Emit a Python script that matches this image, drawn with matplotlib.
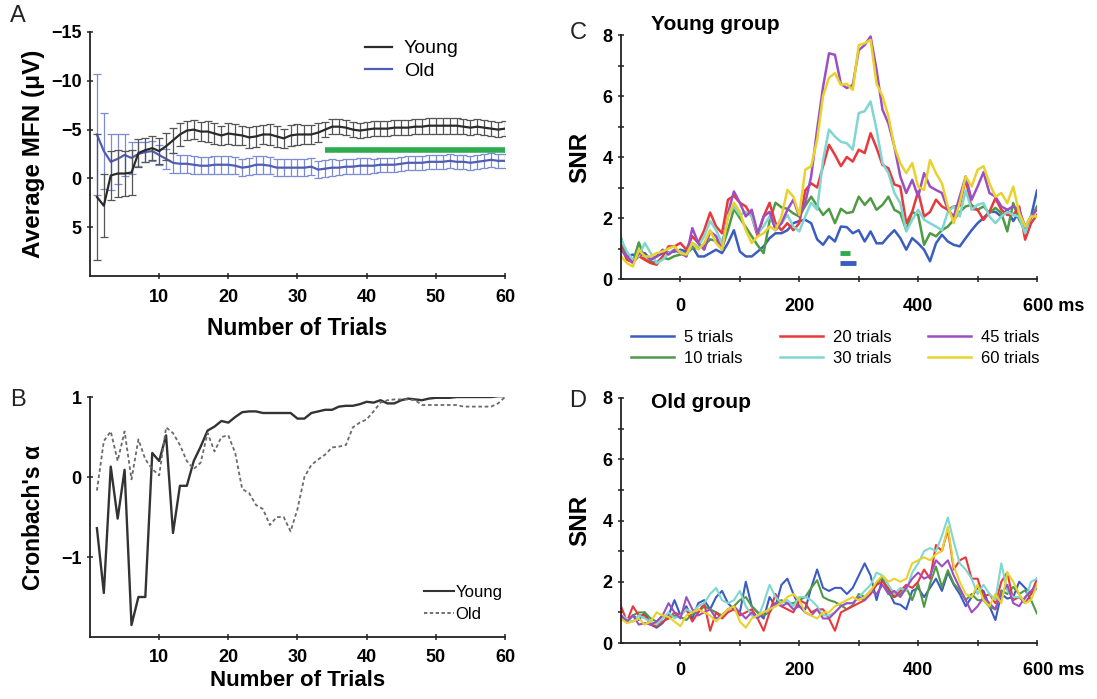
import numpy as np
import matplotlib
matplotlib.use("Agg")
import matplotlib.pyplot as plt
from matplotlib.lines import Line2D
from matplotlib.transforms import ScaledTranslation

plt.rcParams['font.family'] = ['Liberation Sans', 'DejaVu Sans']

# ---- panel A: average MFN vs number of trials ----
trials = np.arange(1, 61)
young_mfn = [1.9, 2.8, -0.3, -0.5, -0.5, -0.6, -2.6, -2.9, -3.1, -2.8,
             -3.3, -3.9, -4.5, -4.9, -5.0, -4.8, -4.8, -4.6, -4.4, -4.6,
             -4.5, -4.4, -4.2, -4.3, -4.5, -4.5, -4.3, -4.1, -4.4, -4.5,
             -4.5, -4.5, -4.7, -5.0, -5.3, -5.3, -5.2, -5.0, -4.9, -5.0,
             -5.1, -5.1, -5.1, -5.2, -5.2, -5.2, -5.3, -5.3, -5.4, -5.4,
             -5.4, -5.4, -5.4, -5.3, -5.2, -5.3, -5.2, -5.1, -5.0, -5.1]
young_err = [6.5, 3.2, 2.5, 2.4, 2.3, 2.3, 1.4, 1.2, 1.2, 1.3,
             1.4, 1.3, 1.2, 1.0, 1.0, 1.0, 1.1, 1.1, 1.0, 1.1,
             1.1, 1.0, 1.1, 1.1, 1.0, 1.1, 1.1, 1.0, 1.1, 1.1,
             1.0, 1.0, 1.0, 0.8, 0.8, 0.8, 0.8, 0.8, 0.8, 0.8,
             0.8, 0.8, 0.8, 0.8, 0.8, 0.8, 0.8, 0.8, 0.8, 0.8,
             0.8, 0.8, 0.8, 0.8, 0.8, 0.8, 0.8, 0.8, 0.8, 0.8]
old_mfn = [-4.5, -2.8, -1.7, -2.0, -2.4, -2.1, -2.5, -2.7, -2.8, -2.4,
           -2.0, -1.6, -1.5, -1.5, -1.4, -1.3, -1.3, -1.4, -1.4, -1.4,
           -1.3, -1.1, -1.2, -1.4, -1.4, -1.3, -1.1, -1.1, -1.1, -1.1,
           -1.1, -1.2, -0.9, -1.0, -1.1, -1.1, -1.2, -1.2, -1.3, -1.3,
           -1.3, -1.4, -1.4, -1.4, -1.5, -1.6, -1.6, -1.6, -1.7, -1.7,
           -1.7, -1.8, -1.7, -1.7, -1.6, -1.7, -1.8, -1.9, -1.8, -1.8]
old_err = [6.2, 3.9, 2.9, 2.6, 2.2, 1.6, 1.2, 1.0, 1.0, 1.0,
           1.0, 1.0, 0.9, 0.9, 0.9, 0.9, 0.9, 0.9, 0.9, 0.9,
           0.9, 0.9, 0.9, 0.9, 0.9, 0.9, 0.9, 0.9, 0.9, 0.9,
           0.9, 0.9, 0.9, 0.9, 0.9, 0.8, 0.8, 0.8, 0.8, 0.8,
           0.7, 0.7, 0.7, 0.7, 0.7, 0.7, 0.7, 0.7, 0.7, 0.7,
           0.7, 0.7, 0.7, 0.7, 0.7, 0.7, 0.7, 0.7, 0.7, 0.7]
sig_start, sig_end, sig_level = 34, 60, -2.9

# ---- panel B: Cronbach's alpha ----
young_alpha = [-0.64, -1.45, 0.13, -0.52, 0.09, -1.85, -1.5, -1.5, 0.3, 0.2,
               0.52, -0.7, -0.11, -0.11, 0.2, 0.38, 0.58, 0.63, 0.7, 0.68,
               0.75, 0.81, 0.82, 0.82, 0.8, 0.8, 0.8, 0.8, 0.8, 0.73,
               0.73, 0.8, 0.82, 0.84, 0.84, 0.88, 0.89, 0.89, 0.91, 0.94,
               0.93, 0.96, 0.92, 0.92, 0.96, 0.98, 0.97, 0.96, 0.98, 0.99,
               0.99, 0.99, 1.0, 1.0, 1.0, 1.0, 1.0, 1.0, 1.01, 1.01]
old_alpha = [-0.17, 0.45, 0.57, 0.2, 0.57, -0.03, 0.47, 0.22, 0.1, 0.02,
             0.62, 0.55, 0.4, 0.2, 0.1, 0.18, 0.55, 0.32, 0.5, 0.52,
             0.3, -0.15, -0.2, -0.35, -0.4, -0.6, -0.5, -0.5, -0.68, -0.4,
             0.0, 0.15, 0.22, 0.28, 0.37, 0.38, 0.4, 0.62, 0.68, 0.72,
             0.82, 0.93, 0.96, 0.97, 0.97, 0.97, 0.96, 0.9, 0.9, 0.9,
             0.9, 0.9, 0.9, 0.88, 0.88, 0.88, 0.88, 0.88, 0.92, 1.0]

# ---- panels C, D: SNR over time ----
times = np.arange(-100, 601, 10)
snr_labels = ["5 trials", "10 trials", "20 trials", "30 trials", "45 trials", "60 trials"]
snr_colors = ["#3b5cc0", "#4f9a45", "#e8383c", "#80d6d2", "#9d4fc1", "#e8d22c"]

young_snr = [
    # 5 trials
    [1.07, 0.74, 0.80, 0.74, 0.85, 0.63, 0.74, 0.85, 0.87, 0.90,
     0.96, 0.90, 1.07, 0.74, 0.74, 0.85, 0.96, 0.85, 1.18, 1.60,
     0.90, 0.74, 0.74, 0.90, 1.07, 1.34, 1.50, 1.50, 1.60, 1.83,
     1.90, 1.94, 1.83, 1.30, 1.12, 1.40, 1.23, 1.72, 1.70, 1.50,
     1.60, 1.23, 1.56, 1.17, 1.17, 1.40, 1.60, 1.34, 0.96, 1.34,
     1.17, 0.96, 0.58, 1.17, 1.45, 1.23, 1.12, 1.07, 1.34, 1.60,
     1.83, 2.00, 2.20, 2.20, 2.05, 2.27, 1.90, 2.20, 1.60, 2.05,
     2.90],
    # 10 trials
    [1.35, 0.70, 0.55, 1.20, 0.65, 0.55, 0.55, 0.70, 0.65, 0.75,
     0.80, 0.85, 1.00, 1.05, 1.10, 1.30, 1.25, 1.00, 1.60, 2.30,
     2.00, 1.70, 1.40, 1.10, 0.85, 1.90, 2.50, 2.35, 2.30, 2.15,
     2.05, 2.40, 2.70, 2.40, 2.10, 2.30, 1.83, 2.30, 2.16, 2.20,
     2.70, 2.43, 2.65, 2.27, 2.43, 2.70, 2.27, 2.16, 1.60, 2.20,
     2.10, 1.12, 1.50, 1.40, 1.60, 1.72, 1.94, 2.20, 2.38, 2.43,
     2.27, 2.38, 2.16, 2.33, 2.16, 1.56, 2.49, 1.94, 1.60, 2.00,
     2.38],
    # 20 trials
    [1.07, 0.63, 0.55, 0.75, 0.63, 0.52, 0.47, 0.74, 1.07, 1.07,
     1.18, 0.96, 1.40, 1.18, 1.60, 2.18, 1.72, 1.50, 2.60, 2.73,
     2.50, 2.38, 2.05, 1.40, 2.05, 2.50, 1.83, 1.60, 1.83, 1.60,
     1.83, 2.90, 3.14, 3.00, 3.70, 4.40, 4.07, 3.70, 4.00, 3.85,
     4.24, 4.13, 4.78, 4.30, 3.74, 3.63, 3.10, 3.03, 1.83, 2.20,
     2.87, 2.05, 2.20, 2.60, 2.38, 2.27, 2.38, 2.40, 3.30, 2.30,
     2.27, 1.94, 2.20, 2.65, 2.27, 2.10, 2.10, 2.38, 1.29, 1.83,
     2.10],
    # 30 trials
    [1.30, 0.90, 0.63, 0.75, 1.18, 0.85, 0.52, 0.63, 0.85, 0.96,
     0.90, 0.74, 1.18, 1.07, 1.40, 1.90, 1.60, 1.18, 2.05, 2.38,
     2.10, 2.20, 2.05, 1.50, 1.72, 2.05, 1.72, 1.83, 2.10, 1.72,
     1.56, 2.05, 2.50, 2.27, 3.90, 4.90, 4.67, 4.50, 4.45, 4.24,
     5.44, 5.50, 5.82, 4.90, 3.80, 3.47, 2.82, 2.49, 1.56, 1.94,
     2.27, 1.94, 1.83, 1.72, 1.60, 2.20, 2.38, 2.05, 2.90, 2.27,
     2.43, 2.49, 2.05, 1.83, 2.05, 2.20, 2.10, 2.05, 1.50, 2.10,
     2.05],
    # 45 trials
    [0.96, 0.74, 0.52, 0.85, 0.80, 0.63, 0.74, 0.96, 0.80, 0.96,
     0.85, 0.74, 1.67, 1.18, 0.96, 1.56, 1.40, 0.96, 2.16, 2.87,
     2.50, 2.05, 2.27, 1.50, 2.05, 2.20, 1.60, 1.83, 2.27, 2.60,
     2.05, 2.50, 3.36, 4.90, 6.30, 7.40, 7.35, 6.40, 6.26, 6.36,
     7.50, 7.67, 7.95, 6.86, 5.55, 5.10, 4.34, 3.36, 2.82, 3.25,
     2.70, 3.47, 3.03, 2.92, 2.82, 2.27, 2.05, 2.70, 3.36, 2.60,
     3.03, 3.50, 2.82, 2.70, 2.38, 2.27, 2.38, 2.27, 1.72, 2.05,
     2.27],
    # 60 trials
    [0.74, 0.52, 0.41, 0.96, 0.74, 0.74, 0.85, 0.90, 1.00, 1.07,
     0.85, 0.80, 1.18, 0.96, 1.18, 1.60, 1.18, 0.96, 2.05, 2.50,
     2.20, 1.60, 1.18, 1.40, 1.50, 1.72, 1.60, 2.05, 2.92, 2.70,
     2.10, 3.58, 3.70, 4.56, 6.00, 6.60, 6.75, 6.36, 6.40, 6.20,
     7.67, 7.73, 7.84, 6.40, 6.00, 5.33, 4.34, 3.80, 3.47, 3.80,
     3.03, 2.92, 3.90, 3.47, 3.14, 2.38, 1.83, 2.50, 3.36, 3.03,
     3.58, 3.70, 3.14, 2.70, 2.82, 2.49, 3.03, 2.16, 1.72, 2.05,
     2.05],
]

old_snr = [
    # 5 trials
    [0.80, 0.70, 0.90, 0.75, 1.00, 0.60, 0.50, 0.65, 0.90, 1.40,
     0.90, 1.20, 0.80, 1.30, 1.40, 1.10, 1.50, 1.70, 1.30, 1.10,
     1.00, 2.00, 1.20, 1.00, 0.80, 1.50, 1.20, 1.90, 2.10, 1.60,
     1.20, 1.10, 1.80, 2.40, 1.80, 1.70, 1.80, 1.80, 1.60, 1.80,
     2.20, 2.60, 2.20, 1.40, 2.10, 1.70, 1.30, 1.25, 1.10, 1.70,
     1.80, 1.50, 1.80, 2.10, 1.70, 2.30, 1.90, 1.60, 1.20, 1.50,
     1.80, 1.70, 1.20, 0.75, 1.60, 1.45, 1.50, 2.00, 1.80, 1.60,
     1.80],
    # 10 trials
    [0.80, 0.70, 0.90, 1.00, 1.00, 0.80, 0.70, 0.90, 0.80, 0.90,
     0.85, 0.75, 0.95, 1.00, 1.20, 1.10, 1.00, 0.90, 1.10, 1.20,
     1.40, 1.50, 1.20, 1.00, 0.90, 1.00, 1.30, 1.40, 1.30, 1.30,
     1.40, 1.50, 1.80, 2.05, 1.50, 1.40, 1.34, 1.23, 1.10, 1.23,
     1.60, 1.50, 1.70, 1.94, 2.16, 1.60, 1.50, 1.60, 1.80, 1.40,
     1.94, 1.18, 1.94, 2.50, 1.83, 2.38, 1.94, 1.72, 1.40, 1.60,
     1.40, 1.40, 1.18, 1.10, 1.72, 1.60, 1.83, 1.60, 1.72, 1.40,
     0.96],
    # 20 trials
    [1.20, 0.70, 1.20, 0.90, 0.90, 0.60, 0.55, 0.70, 0.80, 1.00,
     0.90, 1.10, 0.70, 1.00, 1.30, 0.40, 1.00, 0.80, 1.00, 1.10,
     0.90, 1.00, 1.10, 0.80, 0.40, 1.00, 1.60, 1.20, 1.10, 1.00,
     1.40, 1.30, 1.00, 1.10, 1.10, 0.80, 0.40, 1.00, 1.10, 1.20,
     1.30, 1.40, 1.60, 1.90, 2.00, 1.80, 1.50, 1.70, 1.90, 1.80,
     2.00, 2.40, 2.10, 3.20, 3.00, 3.70, 2.40, 2.70, 2.80, 2.10,
     2.10, 1.50, 1.60, 1.30, 2.00, 2.30, 1.40, 1.50, 1.30, 1.60,
     2.10],
    # 30 trials
    [0.90, 0.80, 0.70, 0.90, 0.80, 0.70, 0.60, 0.80, 1.00, 0.80,
     0.90, 1.10, 1.00, 1.20, 1.30, 1.60, 1.80, 1.40, 1.30, 1.40,
     1.70, 1.20, 0.90, 0.80, 1.30, 1.90, 1.50, 1.30, 1.40, 1.20,
     1.50, 1.50, 1.40, 1.20, 0.90, 0.90, 1.00, 1.20, 1.30, 1.30,
     1.50, 1.70, 1.90, 2.30, 2.20, 1.90, 1.60, 1.80, 1.70, 2.30,
     2.60, 3.00, 3.10, 3.00, 3.50, 4.10, 3.30, 2.60, 2.40, 2.10,
     1.60, 1.90, 1.60, 1.40, 2.60, 1.70, 1.50, 1.50, 1.40, 2.00,
     2.10],
    # 45 trials
    [0.90, 0.70, 0.90, 0.60, 0.65, 0.60, 0.70, 0.90, 1.30, 1.00,
     0.80, 1.50, 1.10, 0.90, 1.00, 1.10, 0.80, 0.90, 1.10, 1.20,
     1.00, 0.80, 1.00, 0.80, 1.00, 1.10, 1.30, 1.20, 1.30, 1.10,
     1.20, 1.00, 0.90, 1.10, 0.80, 0.80, 1.00, 1.20, 1.30, 1.30,
     1.50, 1.40, 1.70, 1.60, 1.90, 1.60, 1.70, 1.50, 1.80, 2.10,
     2.30, 2.10, 2.20, 2.70, 2.50, 2.70, 2.20, 1.80, 1.40, 1.00,
     1.20, 1.50, 1.30, 1.10, 1.60, 1.90, 1.30, 1.20, 1.50, 1.70,
     1.90],
    # 60 trials
    [0.80, 0.65, 0.70, 0.80, 0.60, 0.70, 1.00, 0.90, 0.85, 0.70,
     0.55, 0.90, 1.00, 1.10, 1.00, 0.90, 0.70, 0.90, 1.10, 1.20,
     0.70, 0.50, 0.80, 0.90, 1.00, 1.10, 1.20, 1.30, 1.50, 1.60,
     1.40, 1.00, 0.90, 0.80, 1.00, 1.00, 1.20, 1.30, 1.40, 1.50,
     1.40, 1.50, 1.70, 2.00, 2.20, 2.00, 2.10, 2.00, 2.10, 2.60,
     2.70, 2.80, 2.70, 2.90, 3.00, 3.80, 2.50, 2.00, 1.60, 1.50,
     1.90, 1.40, 1.20, 1.60, 1.30, 2.30, 2.00, 1.60, 1.30, 1.40,
     1.90],
]
# significance bars under the young SNR curves (ms, level)
bar_green = ([269, 286], 0.85)
bar_blue = ([269, 296], 0.52)

W, H = 1097, 699
fig = plt.figure(figsize=(W / 100, H / 100), dpi=100)


def box(l, t, r, b):
    return [l / W, 1 - b / H, (r - l) / W, (b - t) / H]


def style(ax):
    for s in ['top', 'right']:
        ax.spines[s].set_visible(False)
    for s in ['left', 'bottom']:
        ax.spines[s].set_linewidth(1.3)
        ax.spines[s].set_color('#222222')
    ax.tick_params(axis='both', direction='inout', length=5, width=1.1,
                   labelsize=13, color='#222222')
    for lab in ax.get_xticklabels() + ax.get_yticklabels():
        lab.set_fontweight('bold')


# A
axA = fig.add_axes(box(90, 32, 505, 276))
axA.errorbar(trials, young_mfn, yerr=young_err, color='#2b2b2b', ecolor='#555555',
             lw=1.6, elinewidth=0.9, capsize=3, capthick=0.9, zorder=3)
axA.errorbar(trials, old_mfn, yerr=old_err, color='#4f5db5', ecolor='#7d8bd3',
             lw=1.6, elinewidth=0.9, capsize=3, capthick=0.9, zorder=2)
axA.plot([sig_start, sig_end], [sig_level, sig_level], color='#2eaa4f', lw=4,
         solid_capstyle='butt')
axA.set_xlim(0, 60)
axA.set_ylim(10, -15)
axA.set_xticks([10, 20, 30, 40, 50, 60])
axA.set_yticks([-15, -10, -5, 0, 5])
axA.set_yticklabels(['\u221215', '\u221210', '\u22125', '0', '5'])
style(axA)
axA.tick_params(axis='x', pad=7)
axA.set_xlabel('Number of Trials', fontsize=16.5, fontweight='bold', labelpad=8)
axA.set_ylabel('Average MFN (\u03bcV)', fontsize=17.5, fontweight='bold', labelpad=4)
axA.legend(handles=[Line2D([], [], color='#2b2b2b', lw=1.6),
                    Line2D([], [], color='#4f5db5', lw=1.6)],
           labels=['Young', 'Old'], loc='upper left', bbox_to_anchor=(0.62, 1.04),
           frameon=False, fontsize=14, handlelength=1.4, handletextpad=0.6,
           labelspacing=0.25)

# B
axB = fig.add_axes(box(90, 397, 505, 637))
axB.plot(trials, young_alpha, color='#333333', lw=1.7)
axB.plot(trials, old_alpha, color='#6a6a6a', lw=1.3, ls=(0, (2, 1.5)))
axB.set_xlim(0, 60)
axB.set_ylim(-2, 1)
axB.set_xticks([10, 20, 30, 40, 50, 60])
axB.set_yticks([1, 0, -1])
axB.set_yticklabels(['1', '0', '\u22121'])
style(axB)
axB.tick_params(axis='x', pad=6)
axB.set_xlabel('Number of Trials', fontsize=16, fontweight='bold', labelpad=3)
axB.set_ylabel("Cronbach's \u03b1", fontsize=16.5, fontweight='bold', labelpad=12)
axB.legend(handles=[Line2D([], [], color='#333333', lw=1.5),
                    Line2D([], [], color='#555555', lw=1.2, ls=(0, (2, 1.5)))],
           labels=['Young', 'Old'], loc='lower right', bbox_to_anchor=(1.03, 0.0),
           frameon=False, fontsize=12, handlelength=1.8, handletextpad=0.1,
           labelspacing=0.45)


def snr_axes(ax, title, title_y):
    ax.set_xlim(-100, 600)
    ax.set_ylim(0, 8)
    ax.set_xticks([0, 200, 400, 600])
    ax.set_xticklabels(['0', '200', '400', '600 ms'])
    ax.set_xticks([100, 300, 500], minor=True)
    ax.set_yticks([0, 2, 4, 6, 8])
    ax.set_yticks([1, 3, 5, 7], minor=True)
    style(ax)
    ax.tick_params(which='minor', direction='inout', length=4, width=1.1, color='#222222')
    ax.tick_params(axis='x', pad=11)
    lab = ax.get_xticklabels()[-1]
    lab.set_transform(lab.get_transform() + ScaledTranslation(0.17, 0, fig.dpi_scale_trans))
    ax.set_ylabel('SNR', fontsize=17.5, fontweight='bold', labelpad=8)
    fig.text(651 / W, 1 - title_y / H, title, fontsize=15, fontweight='bold',
             va='center', ha='left')


# C
axC = fig.add_axes(box(621, 35, 1037, 279))
lines = []
for vals, col, lbl in zip(young_snr, snr_colors, snr_labels):
    ln, = axC.plot(times, vals, color=col, lw=1.8, label=lbl)
    lines.append(ln)
axC.plot(bar_green[0], [bar_green[1]] * 2, color='#2eaa4f', lw=3.5, solid_capstyle='butt')
axC.plot(bar_blue[0], [bar_blue[1]] * 2, color='#3b5cc0', lw=3.5, solid_capstyle='butt')
snr_axes(axC, 'Young group', 24)
fig.legend(handles=lines, loc='upper left', bbox_to_anchor=(616 / W, 1 - 315 / H),
           ncol=3, frameon=False, fontsize=12, handlelength=2.6, handletextpad=0.6,
           columnspacing=2.2, labelspacing=0.35)

# D
axD = fig.add_axes(box(621, 398, 1037, 643))
for vals, col in zip(old_snr, snr_colors):
    axD.plot(times, vals, color=col, lw=1.5)
snr_axes(axD, 'Old group', 403)

# panel letters
for x, y, s in [(10, 16, 'A'), (10, 400, 'B'), (578, 33, 'C'), (578, 401, 'D')]:
    fig.text(x / W, 1 - y / H, s, fontsize=17, ha='center' if s in 'CD' else 'left',
             va='center', color='#222222')

fig.savefig('out.png', dpi=100)
